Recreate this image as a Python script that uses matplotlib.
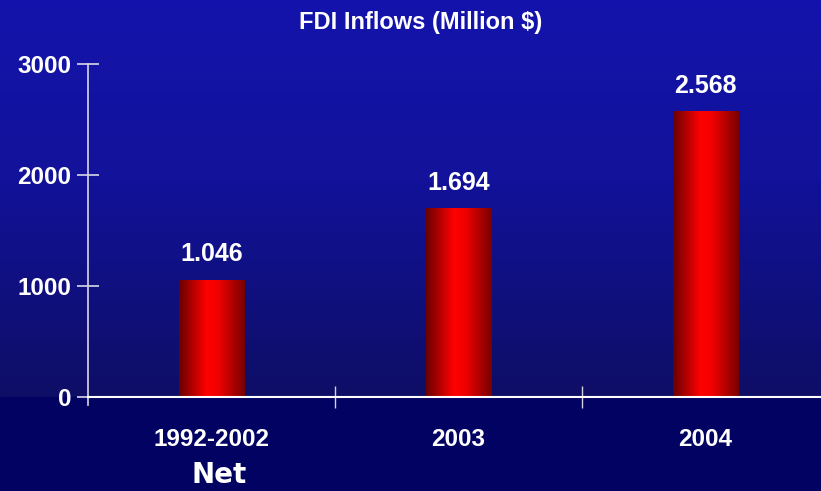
import numpy as np
import matplotlib.pyplot as plt
from matplotlib.colors import LinearSegmentedColormap

categories = ['1992-2002', '2003', '2004']
inflows = [1046, 1694, 2568]
value_labels = ['1.046', '1.694', '2.568']
yticks = [0, 1000, 2000, 3000]

sans = ['Liberation Sans', 'DejaVu Sans']

fig = plt.figure(figsize=(8.21, 4.91), dpi=100)

# background: blue gradient above the axis, flat navy strip below it
bg = fig.add_axes([0, 0, 1, 1], zorder=0)
bg.set_axis_off()
bg_cmap = LinearSegmentedColormap.from_list(
    'bg', [(0.0, '#1414ac'), (0.45, '#12129a'), (1.0, '#0e0e66')])
grad = np.linspace(0, 1, 256).reshape(-1, 1)
axis_frac = 1 - 397 / 491
bg.imshow(grad, cmap=bg_cmap, aspect='auto',
          extent=[0, 1, axis_frac, 1], origin='upper')
bg.axhspan(0, axis_frac, color='#020262')
bg.set_xlim(0, 1)
bg.set_ylim(0, 1)

ax = fig.add_axes([88 / 821, axis_frac, 1 - 88 / 821, (397 - 64) / 491], zorder=1)
ax.patch.set_visible(False)

x = np.arange(len(categories))
bars = ax.bar(x, inflows, width=0.265, color='none')

# red cylinder-ish shading across each bar
bar_cmap = LinearSegmentedColormap.from_list(
    'bar', [(0.0, '#6a0000'), (0.42, '#ff0000'), (0.6, '#f00000'), (1.0, '#780000')])
hgrad = np.linspace(0, 1, 256).reshape(1, -1)
for b, lab in zip(bars, value_labels):
    x0, w, h = b.get_x(), b.get_width(), b.get_height()
    ax.imshow(hgrad, cmap=bar_cmap, aspect='auto',
              extent=[x0, x0 + w, 0, h], zorder=2)
    ax.text(x0 + w / 2, h + 130, lab, ha='center', va='bottom',
            color='white', fontsize=18, fontweight='bold', family=sans)

ax.set_xlim(-0.5, 2.5 - 8 / 247)
ax.set_ylim(0, 3000)

for side in ['top', 'right']:
    ax.spines[side].set_visible(False)
ax.spines['left'].set_color('#d8d8e8')
ax.spines['bottom'].set_color('white')
ax.spines['left'].set_linewidth(1.2)
ax.spines['bottom'].set_linewidth(1.5)
ax.spines['left'].set_bounds(-70, 3000)

ax.set_yticks(yticks)
ax.set_yticklabels([str(t) for t in yticks], color='white', fontsize=17.5,
                   fontweight='bold', family=sans)
ax.tick_params(axis='y', direction='inout', length=16, width=1.2,
               color='#d8d8e8', pad=4)

# category boundaries get the tick marks, labels sit at the centres
ax.set_xticks([0.5, 1.5])
ax.set_xticklabels([])
ax.tick_params(axis='x', direction='inout', length=16, width=1.0, color='#d0d0e0')
ax.set_xticks(x, minor=True)
ax.set_xticklabels(categories, minor=True, color='white', fontsize=17.5,
                   fontweight='bold', family=sans)
ax.tick_params(axis='x', which='minor', length=0, pad=22)

fig.text(421 / 821, 1 - 23 / 491, 'FDI Inflows (Million $)', ha='center', va='center',
         color='white', fontsize=17, fontweight='bold', family=sans)
fig.text(219 / 821, 1 - 475 / 491, 'Net', ha='center', va='center',
         color='white', fontsize=20, fontweight='heavy', family='DejaVu Sans')

fig.savefig('out.png', dpi=100)
